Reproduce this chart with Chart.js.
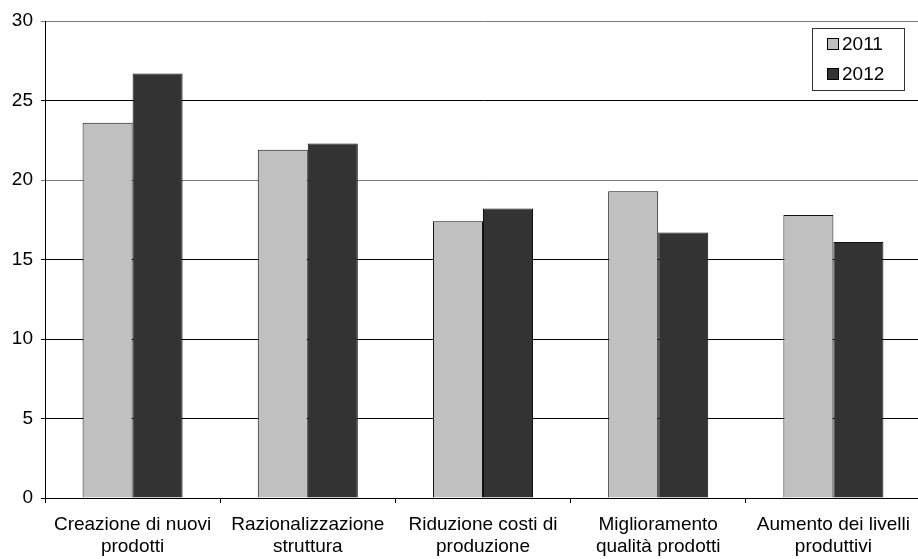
<!DOCTYPE html>
<html>
<head>
<meta charset="utf-8">
<script src="https://cdn.jsdelivr.net/npm/chart.js@4"></script>
<style>
  html, body { margin: 0; padding: 0; background: #fff; overflow: hidden; }
  #wrap { width: 921px; height: 559px; }
</style>
</head>
<body>
<div id="wrap"><canvas id="c" width="921" height="559"></canvas></div>
<script>
const categories = [
  ['Creazione di nuovi', 'prodotti'],
  ['Razionalizzazione', 'struttura'],
  ['Riduzione costi di', 'produzione'],
  ['Miglioramento', 'qualità prodotti'],
  ['Aumento dei livelli', 'produttivi']
];
const seriesNames = ['2011', '2012'];
const values2011 = [23.6, 21.9, 17.4, 19.3, 17.8];
const values2012 = [26.7, 22.3, 18.2, 16.7, 16.1];
const yTicks = [0, 5, 10, 15, 20, 25, 30];

const FONT = 'Liberation Sans, Arial, sans-serif';
const fills = ['#c0c0c0', '#333333'];

// Boxed legend drawn in the top-right corner of the plot area
const boxLegend = {
  id: 'boxLegend',
  afterDraw(chart) {
    const ctx = chart.ctx;
    const ca = chart.chartArea;
    const x = ca.right - 109, y = ca.top + 7, w = 92, h = 62;
    ctx.save();
    ctx.fillStyle = '#fff';
    ctx.fillRect(x, y, w, h);
    ctx.strokeStyle = '#333';
    ctx.lineWidth = 1;
    ctx.strokeRect(x + 0.5, y + 0.5, w, h);
    ctx.font = '19px ' + FONT;
    ctx.textBaseline = 'middle';
    chart.data.datasets.forEach((ds, i) => {
      const cy = y + 15 + i * 30;
      ctx.fillStyle = ds.backgroundColor;
      ctx.fillRect(x + 15, cy - 5, 11, 11);
      ctx.strokeStyle = '#000';
      ctx.strokeRect(x + 15.5, cy - 4.5, 11, 11);
      ctx.fillStyle = '#000';
      ctx.fillText(ds.label, x + 30, cy + 2);
    });
    ctx.restore();
  }
};

new Chart(document.getElementById('c'), {
  type: 'bar',
  data: {
    labels: categories,
    datasets: [
      { label: seriesNames[0], data: values2011, backgroundColor: fills[0], borderColor: '#111', borderWidth: 1 },
      { label: seriesNames[1], data: values2012, backgroundColor: fills[1], borderColor: '#111', borderWidth: 1 }
    ]
  },
  options: {
    responsive: false,
    animation: false,
    layout: { padding: { top: 21, left: 0, right: 0, bottom: 0 } },
    datasets: { bar: { categoryPercentage: 0.571, barPercentage: 1 } },
    plugins: { legend: { display: false }, tooltip: { enabled: false } },
    scales: {
      x: {
        grid: { offset: true, drawOnChartArea: false, color: '#000', tickLength: 5 },
        border: { color: '#000' },
        ticks: { color: '#000', font: { family: FONT, size: 19 }, padding: 10, maxRotation: 0, autoSkip: false },
        afterFit(s) { s.height = 61; }
      },
      y: {
        min: 0, max: 30,
        afterBuildTicks(s) { s.ticks = yTicks.map(v => ({ value: v })); },
        grid: {
          color: c => (c.tick && (c.tick.value === 30 || c.tick.value === 20)) ? '#7a7a7a' : '#000',
          tickLength: 4
        },
        border: { color: '#000' },
        ticks: { color: '#000', font: { family: FONT, size: 19 }, padding: 8 },
        afterFit(s) { s.width = 45; }
      }
    }
  },
  plugins: [boxLegend]
});
</script>
</body>
</html>
